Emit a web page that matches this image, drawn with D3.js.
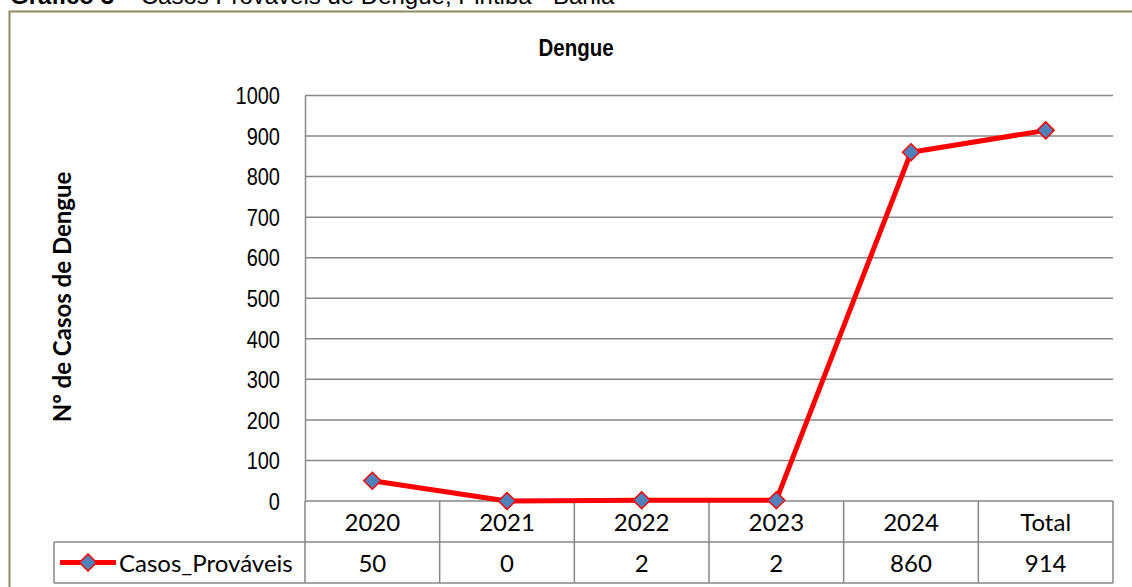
<!DOCTYPE html>
<html><head><meta charset="utf-8">
<script src="https://cdn.jsdelivr.net/npm/d3@7"></script>
<style>body{margin:0;background:#fff;}svg{display:block;}</style>
</head><body>
<svg id="c" width="1132" height="587"></svg>
<script>
const categories = ["2020","2021","2022","2023","2024","Total"];
const values = [50, 0, 2, 2, 860, 914];
const yTicks = [0,100,200,300,400,500,600,700,800,900,1000];
const seriesName = "Casos_Prováveis";
const chartTitle = "Dengue";
const yTitle = "Nº de Casos de Dengue";
const pageTitleBold = "Gráfico 3";
const pageTitleRest = " – Casos Prováveis de Dengue, Piritiba - Bahia";

const svg = d3.select("#c");
const L = 305, R = 1113, T = 95.5, B = 501;
const rowH = 41;
const tableFont = "Lato, 'Open Sans', sans-serif";
const arial = "'Liberation Sans', Arial, sans-serif";
const SY = 1.18;

// outer border
svg.append("rect").attr("x",9.5).attr("y",11.5).attr("width",1140).attr("height",600)
  .attr("fill","none").attr("stroke","#8e8a62").attr("stroke-width",2);

// page caption (cut at top, as in the source)
const cap = svg.append("text").attr("x",10).attr("y",4).attr("font-family",arial)
  .attr("font-size",24).attr("fill","#000");
cap.append("tspan").attr("font-weight","bold").text(pageTitleBold);
cap.append("tspan").text(pageTitleRest);

const x = d3.scaleBand().domain(categories).range([L,R]);
const y = d3.scaleLinear().domain([0,1000]).range([B,T]);

// gridlines
svg.append("g").selectAll("line").data(yTicks.filter(d=>d>0)).join("line")
  .attr("x1",L).attr("x2",R).attr("y1",d=>y(d)).attr("y2",d=>y(d))
  .attr("stroke","#878787").attr("stroke-width",1.5);

// y axis
const yAxis = d3.axisLeft(y).tickValues(yTicks).tickSize(0).tickFormat(d3.format("d"));
const gy = svg.append("g").attr("transform",`translate(${L},0)`).call(yAxis);
gy.select(".domain").attr("stroke","#878787").attr("stroke-width",1.5);
gy.selectAll("text").attr("font-family",arial).attr("font-size",20).attr("fill","#000")
  .attr("x",0).attr("dy","0.35em").attr("transform",`translate(-25,0) scale(1,${SY})`);

// table
const tableG = svg.append("g");
const lineStroke = "#878787";
tableG.append("line").attr("x1",L).attr("x2",R).attr("y1",B).attr("y2",B).attr("stroke",lineStroke).attr("stroke-width",1.5);
tableG.append("line").attr("x1",54).attr("x2",R).attr("y1",B+rowH).attr("y2",B+rowH).attr("stroke",lineStroke).attr("stroke-width",1.5);
tableG.append("line").attr("x1",54).attr("x2",R).attr("y1",B+2*rowH).attr("y2",B+2*rowH).attr("stroke",lineStroke).attr("stroke-width",1.5);
const bounds = categories.map(c=>x(c)).concat([R]);
tableG.selectAll("line.v").data(bounds).join("line").attr("class","v")
  .attr("x1",d=>d).attr("x2",d=>d).attr("y1",B).attr("y2",B+2*rowH).attr("stroke",lineStroke).attr("stroke-width",1.5);
tableG.append("line").attr("x1",54).attr("x2",54).attr("y1",B+rowH).attr("y2",B+2*rowH).attr("stroke",lineStroke).attr("stroke-width",1.5);
tableG.selectAll("text.cat").data(categories).join("text").attr("class","cat")
  .attr("x",d=>x(d)+x.bandwidth()/2).attr("y",B+rowH/2+1).attr("dy","0.35em")
  .attr("text-anchor","middle").attr("font-family",tableFont).attr("font-size",24).text(d=>d);
tableG.selectAll("text.val").data(values).join("text").attr("class","val")
  .attr("x",(d,i)=>x(categories[i])+x.bandwidth()/2).attr("y",B+rowH*1.5+1).attr("dy","0.35em")
  .attr("text-anchor","middle").attr("font-family",tableFont).attr("font-size",24).text(d=>d);

const diamond = (g, cx, cy) => g.append("path")
  .attr("d",`M${cx},${cy-8.5}L${cx+8.5},${cy}L${cx},${cy+8.5}L${cx-8.5},${cy}Z`)
  .attr("fill","#4f81bd").attr("stroke","#ff0000").attr("stroke-width",1.5);

// legend
const ly = B+rowH*1.5;
tableG.append("line").attr("x1",60).attr("x2",116).attr("y1",ly).attr("y2",ly).attr("stroke","#ff0000").attr("stroke-width",5);
diamond(tableG, 88, ly);
tableG.append("text").attr("x",119).attr("y",ly+1).attr("dy","0.35em").attr("font-family",tableFont).attr("font-size",24).text(seriesName);

// line
const line = d3.line().x((d,i)=>x(categories[i])+x.bandwidth()/2).y(d=>y(d));
svg.append("path").datum(values).attr("d",line).attr("fill","none").attr("stroke","#ff0000").attr("stroke-width",5).attr("stroke-linejoin","round");
const mg = svg.append("g");
values.forEach((v,i)=>diamond(mg, x(categories[i])+x.bandwidth()/2, y(v)));

// chart title
svg.append("text").attr("transform",`translate(576,48) scale(1,${SY})`).attr("dy","0.35em").attr("text-anchor","middle")
  .attr("font-family",arial).attr("font-weight","bold").attr("font-size",20.5).text(chartTitle);

// y title
svg.append("text").attr("transform","translate(63,297) rotate(-90)").attr("dy","0.35em").attr("text-anchor","middle")
  .attr("font-family",tableFont).attr("font-weight","bold").attr("font-size",24).text(yTitle);
</script>
</body></html>
